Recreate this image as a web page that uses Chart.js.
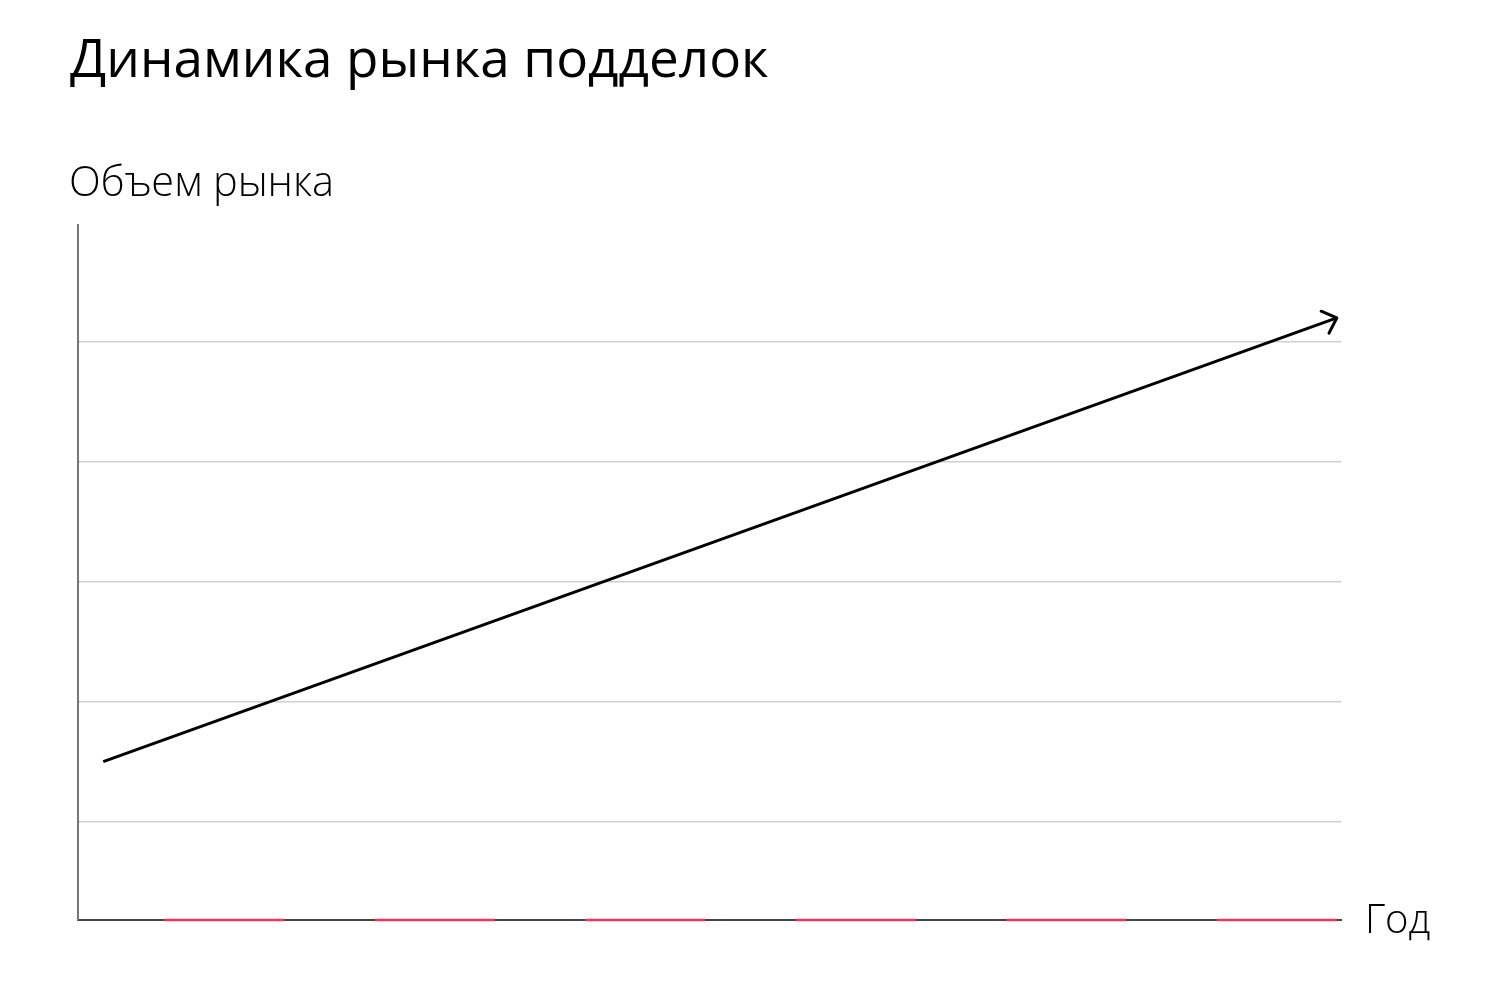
<!DOCTYPE html>
<html>
<head>
<meta charset="utf-8">
<script src="https://cdn.jsdelivr.net/npm/chart.js@4.4.1/dist/chart.umd.min.js"></script>
<style>
  html, body { margin: 0; padding: 0; background: #fff; }
  #wrap { position: relative; width: 1500px; height: 990px; }
  #chart { position: absolute; left: 0; top: 0; }
  .txt { position: absolute; color: #000; font-family: "Open Sans", sans-serif; line-height: 1; white-space: nowrap; }
  #title { left: 70px; top: 30px; font-size: 53px; font-weight: 400; }
  #ylabel { left: 69px; top: 160px; font-size: 41.5px; font-weight: 300; }
  #xlabel { left: 1365px; top: 898px; font-size: 40px; font-weight: 300; }
</style>
</head>
<body>
<div id="wrap">
  <canvas id="chart" width="1500" height="990"></canvas>
  <div class="txt" id="title">Динамика рынка подделок</div>
  <div class="txt" id="ylabel">Объем рынка</div>
  <div class="txt" id="xlabel">Год</div>
</div>
<script>
// axis ranges (years on x, market volume on y, arbitrary units)
const xRange = [0, 6];
const yRange = [0.18, 5.975];
const gridValues = [1, 2, 3, 4, 5];

// growth trend (start and end of the arrow)
const trendX = [0.12, 5.98];
const trendY = [1.5, 5.2];

// red marks along the x axis
const redFrom = [0.41, 1.41, 2.41, 3.41, 4.41, 5.41];
const redTo = [0.98, 1.98, 2.98, 3.98, 4.98, 5.98];

const trendPoints = trendX.map((x, i) => ({ x: x, y: trendY[i] }));

const redPoints = [];
redFrom.forEach((from, i) => {
  redPoints.push({ x: from, y: yRange[0] });
  redPoints.push({ x: redTo[i], y: yRange[0] });
  redPoints.push({ x: redTo[i], y: null }); // break the line
});

// draws the arrow head at the end of the trend line
const arrowHead = {
  id: 'arrowHead',
  afterDatasetsDraw(chart) {
    const pts = chart.getDatasetMeta(0).data;
    if (pts.length < 2) return;
    const a = pts[pts.length - 2];
    const b = pts[pts.length - 1];
    const ang = Math.atan2(b.y - a.y, b.x - a.x);
    const len = 17;
    const spread = 43 * Math.PI / 180;
    const ctx = chart.ctx;
    ctx.save();
    ctx.strokeStyle = '#000';
    ctx.lineWidth = 3;
    ctx.lineCap = 'round';
    ctx.lineJoin = 'round';
    ctx.beginPath();
    ctx.moveTo(b.x - len * Math.cos(ang - spread), b.y - len * Math.sin(ang - spread));
    ctx.lineTo(b.x, b.y);
    ctx.lineTo(b.x - len * Math.cos(ang + spread), b.y - len * Math.sin(ang + spread));
    ctx.stroke();
    ctx.restore();
  }
};

new Chart(document.getElementById('chart'), {
  type: 'line',
  data: {
    datasets: [
      {
        data: trendPoints,
        borderColor: '#000',
        borderWidth: 3,
        pointRadius: 0,
        tension: 0,
        clip: false,
      },
      {
        data: redPoints,
        borderColor: '#f0375a',
        borderWidth: 2.5,
        pointRadius: 0,
        spanGaps: false,
        clip: false,
      },
    ],
  },
  options: {
    responsive: false,
    animation: false,
    events: [],
    layout: { padding: { left: 78, right: 159, top: 225, bottom: 70 } },
    plugins: { legend: { display: false }, tooltip: { enabled: false } },
    scales: {
      x: {
        type: 'linear',
        min: xRange[0],
        max: xRange[1],
        ticks: { display: false },
        grid: { display: false, drawTicks: false },
        border: { display: true, color: '#444', width: 2 },
      },
      y: {
        type: 'linear',
        min: yRange[0],
        max: yRange[1],
        afterBuildTicks: (scale) => { scale.ticks = gridValues.map(v => ({ value: v })); },
        ticks: { display: false },
        grid: { color: '#d0d0d0', lineWidth: 1.5, drawTicks: false },
        border: { display: true, color: '#777', width: 2 },
      },
    },
  },
  plugins: [arrowHead],
});
</script>
</body>
</html>
